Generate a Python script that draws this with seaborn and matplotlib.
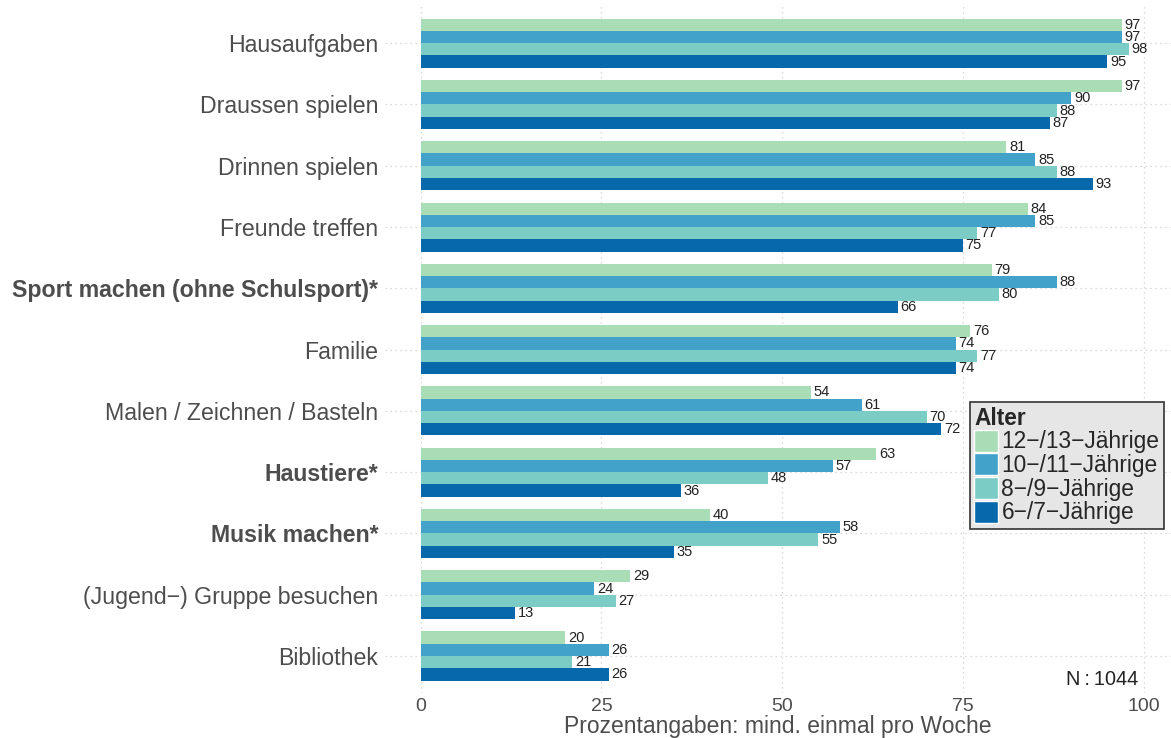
import pandas as pd
import seaborn as sns
import matplotlib
matplotlib.use("Agg")
from matplotlib import pyplot as plt

# categories (top to bottom) and age groups
activities = ["Hausaufgaben", "Draussen spielen", "Drinnen spielen", "Freunde treffen",
              "Sport machen (ohne Schulsport)*", "Familie", "Malen / Zeichnen / Basteln",
              "Haustiere*", "Musik machen*", "(Jugend\u2212) Gruppe besuchen", "Bibliothek"]
bold_labels = ["Sport machen (ohne Schulsport)*", "Haustiere*", "Musik machen*"]
ages = ["12\u2212/13\u2212Jährige", "10\u2212/11\u2212Jährige", "8\u2212/9\u2212Jährige", "6\u2212/7\u2212Jährige"]

age_12_13 = [97, 97, 81, 84, 79, 76, 54, 63, 40, 29, 20]
age_10_11 = [97, 90, 85, 85, 88, 74, 61, 57, 58, 24, 26]
age_8_9 = [98, 88, 88, 77, 80, 77, 70, 48, 55, 27, 21]
age_6_7 = [95, 87, 93, 75, 66, 74, 72, 36, 35, 13, 26]

colors = ["#a8ddb5", "#43a2ca", "#7bccc4", "#0868ac"]

df = pd.DataFrame({
    "Aktivität": activities * 4,
    "Alter": [a for a in ages for _ in activities],
    "Prozent": age_12_13 + age_10_11 + age_8_9 + age_6_7,
})

sns.set_style("white")
plt.rcParams["font.family"] = ["Liberation Sans", "DejaVu Sans"]

fig = plt.figure(figsize=(11.71, 7.38), dpi=100)
ax = fig.add_axes([0.329, 0.0613, 0.671, 0.930])

sns.barplot(data=df, y="Aktivität", x="Prozent", hue="Alter", order=activities,
            hue_order=ages, palette=colors, orient="h", width=0.8, gap=0,
            saturation=1, ax=ax, legend=True, errorbar=None, linewidth=0)

for cont in ax.containers:
    ax.bar_label(cont, fmt="%d", padding=2, fontsize=10.5, color="#222222")

ax.set_xlim(-4.9, 103.8)
ax.set_ylim(10.6, -0.6)
ax.set_xticks([0, 25, 50, 75, 100])
ax.set_xlabel("Prozentangaben: mind. einmal pro Woche", fontsize=16.5, color="#4d4d4d", labelpad=0)
ax.set_ylabel("")
ax.tick_params(axis="x", labelsize=14, labelcolor="#4d4d4d", length=0, pad=4)
ax.tick_params(axis="y", labelsize=16.7, labelcolor="#4d4d4d", length=0, pad=5)
for lab in ax.get_yticklabels():
    if lab.get_text() in bold_labels:
        lab.set_fontweight("bold")

ax.grid(True, which="major", axis="both", linestyle=(0, (1, 3)), color="#cfcfcf", linewidth=0.9)
ax.set_axisbelow(True)
for s in ax.spines.values():
    s.set_visible(False)

ax.text(0.958, 0.019, "N\u2009:\u20091044", transform=ax.transAxes, ha="right", va="center",
        fontsize=14.3, color="#222222")

leg = ax.legend(title="Alter", loc="upper left", bbox_to_anchor=(0.828, 0.455),
                bbox_transform=fig.transFigure, fontsize=16.4, title_fontsize=16.4,
                handlelength=1.05, handleheight=1.1, handletextpad=0.15,
                labelspacing=0.0, borderpad=0.2, borderaxespad=0, fancybox=False,
                frameon=True)
leg.get_title().set_fontweight("bold")
leg._legend_box.align = "left"
frame = leg.get_frame()
frame.set_facecolor("#e6e6e6")
frame.set_edgecolor("#333333")
frame.set_linewidth(1.2)
frame.set_alpha(1)
for h in leg.legend_handles:
    h.set_edgecolor("white")
    h.set_linewidth(1)

fig.savefig("out.png", dpi=100)
